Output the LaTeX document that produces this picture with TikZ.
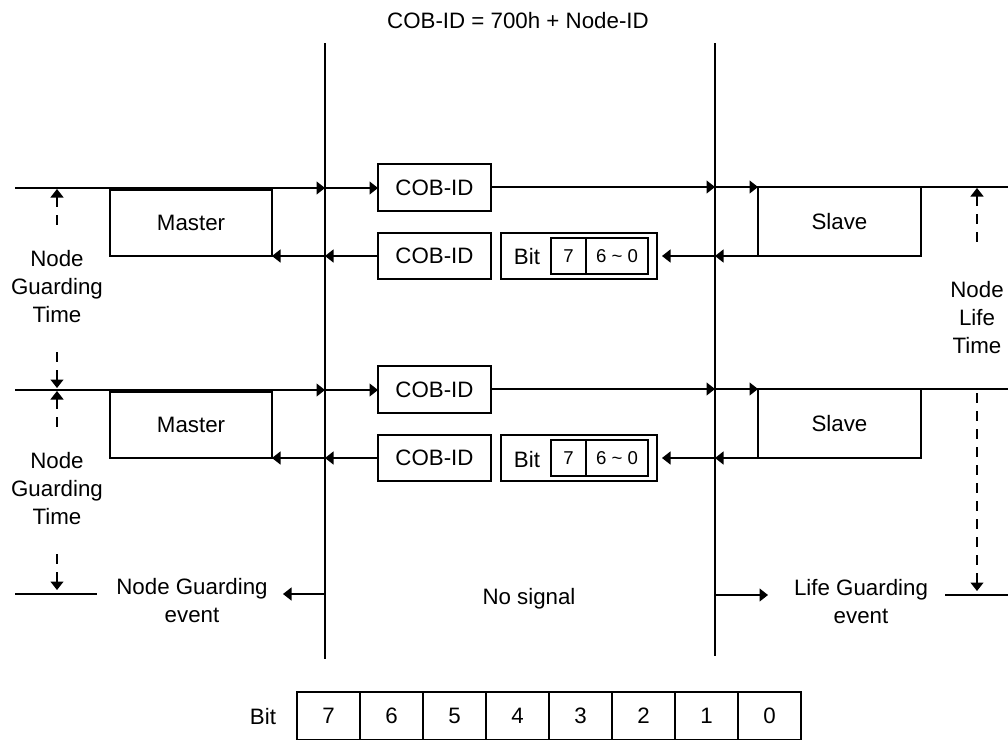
\documentclass[tikz,border=0pt]{standalone}
\usepackage{fontspec}
\setmainfont{Liberation Sans}
\usetikzlibrary{arrows.meta}
\begin{document}
\begin{tikzpicture}[x=1pt,y=-1pt,line width=1.2pt,
  txt/.style={font=\fontsize{22.3}{28}\selectfont, align=center, inner sep=0pt},
  small/.style={font=\fontsize{18.6}{22}\selectfont},
  box/.style={draw, anchor=north west, inner sep=0pt, outer sep=0pt, font=\fontsize{22.3}{28}\selectfont},
  arr/.style={-{Triangle[length=8.5pt,width=13pt]}},
  darr/.style={{Triangle[length=8.5pt,width=13pt]}-, dash pattern=on 10pt off 8pt},
]
\path[use as bounding box] (0,0) rectangle (1008,739);

% header
\node[txt] (hdr) at (518,21) {COB-ID = 700h + Node-ID};

% vertical time lines
\coordinate (vaTop) at (325,43);
\coordinate (vaBot) at (325,659);
\coordinate (vbTop) at (715,43);
\coordinate (vbBot) at (715,656);
\draw (vaTop) -- (vaBot);
\draw (vbTop) -- (vbBot);

\foreach \r/\dy in {1/0,2/202}{
  \coordinate (L\r) at (15,188+\dy);
  \coordinate (VA\r) at (325,188+\dy);
  \coordinate (VB\r) at (715,187+\dy);
  \coordinate (R\r) at (1008,187+\dy);
  \coordinate (ar\r) at (325,256+\dy);
  \coordinate (br\r) at (715,256+\dy);

  \node[box, minimum width=162pt, minimum height=66pt] (m\r) at (110,190+\dy) {Master};
  \node[box, minimum width=163pt, minimum height=69pt] (s\r) at (758,187+\dy) {Slave};
  \node[box, minimum width=113pt, minimum height=47pt] (c\r) at (378,164+\dy) {COB-ID};
  \node[box, minimum width=113pt, minimum height=46pt] (d\r) at (378,233+\dy) {COB-ID};
  \node[box, minimum width=156pt, minimum height=46pt] (b\r) at (501,233+\dy) {};
  \node[txt] (bt\r) at (527,257+\dy) {Bit};
  \node[box, small, minimum width=35pt, minimum height=36pt] (bs\r) at (551,238+\dy) {7};
  \node[box, small, minimum width=62pt, minimum height=36pt] (bz\r) at (586,238+\dy) {6 \textasciitilde{} 0};

  \draw[arr] (L\r) -- (VA\r);
  \draw[arr] (VA\r) -- (VA\r -| c\r.west);
  \draw[arr] (c\r.east |- VB\r) -- (VB\r);
  \draw[arr] (VB\r) -- (s\r.north west);
  \draw (s\r.north east) -- (R\r);
  \draw[arr] (s\r.south west) -- (br\r);
  \draw[arr, shorten >=5pt] (br\r) -- (br\r -| b\r.east);
  \draw[arr] (ar\r -| d\r.west) -- (ar\r);
  \draw[arr] (ar\r) -- (m\r.south east);

  % Node Guarding Time (left)
  \node[txt] (ngt\r) at (57,287+\dy) {Node\\Guarding\\Time};
  \coordinate (ngA\r) at (57,189+\dy);
  \coordinate (ngB\r) at (57,226+\dy);
  \coordinate (ngC\r) at (57,350+\dy);
  \coordinate (ngD\r) at (57,388+\dy);
  \draw[darr] (ngA\r) -- (ngB\r);
  \draw[darr] (ngD\r) -- (ngC\r);
}

% Node Life Time (right)
\node[txt] (nlt) at (977,318) {Node\\Life\\Time};
\coordinate (nlA) at (977,188);
\coordinate (nlB) at (977,246);
\coordinate (nlC) at (977,392);
\coordinate (nlD) at (977,591);
\draw[darr] (nlA) -- (nlB);
\draw[darr] (nlD) -- (nlC);

% bottom events
\coordinate (bl1) at (15,594);
\coordinate (bl2) at (97,594);
\draw (bl1) -- (bl2);
\node[txt] (nge) at (192,601) {Node Guarding\\event};
\coordinate (vaE) at (325,594);
\coordinate (ngeT) at (283,594);
\draw[arr] (vaE) -- (ngeT);
\node[txt] (nos) at (529,599) {No signal};
\coordinate (vbE) at (715,595);
\coordinate (lgeT) at (768,595);
\draw[arr] (vbE) -- (lgeT);
\node[txt] (lge) at (861,602) {Life Guarding\\event};
\coordinate (br1e) at (945,595);
\coordinate (br2e) at (1008,595);
\draw (br1e) -- (br2e);

% bit table
\node[txt] (bitL) at (263,716) {Bit};
\foreach \d [count=\i from 0] in {7,6,5,4,3,2,1,0}
  \node[box, minimum width=63pt, minimum height=48pt] (cell\d) at (297+63*\i,692) {\d};
\end{tikzpicture}
\end{document}
